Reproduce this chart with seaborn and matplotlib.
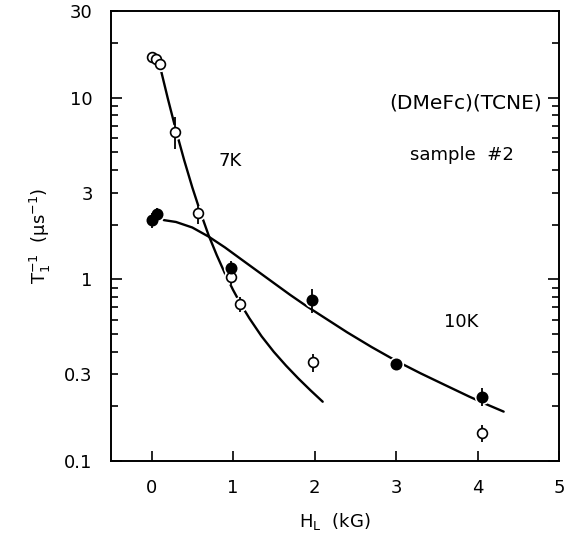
import numpy as np
import pandas as pd
import seaborn as sns
import matplotlib.pyplot as plt
from matplotlib.ticker import FixedLocator, FuncFormatter

# 7K data (open circles)
h_7k = [0.0, 0.06, 0.10, 0.29, 0.57, 0.97, 1.09, 1.98, 4.06]
rate_7k = [16.8, 16.4, 15.4, 6.5, 2.31, 1.03, 0.73, 0.35, 0.142]
err_7k = [0.0, 0.0, 0.0, 1.3, 0.3, 0.1, 0.07, 0.04, 0.015]

# 10K data (filled circles)
h_10k = [0.0, 0.07, 0.97, 1.97, 3.0, 4.06]
rate_10k = [2.12, 2.28, 1.15, 0.77, 0.34, 0.226]
err_10k = [0.2, 0.2, 0.12, 0.12, 0.02, 0.025]

# fit curves
fit7_h = [0.12, 0.20, 0.30, 0.40, 0.50, 0.60, 0.70, 0.80, 0.90, 1.00, 1.10,
          1.20, 1.35, 1.50, 1.65, 1.80, 1.95, 2.10]
fit7_r = [13.9, 9.89, 6.61, 4.54, 3.21, 2.34, 1.75, 1.36, 1.08, 0.875, 0.724,
          0.611, 0.486, 0.399, 0.335, 0.285, 0.245, 0.212]
fit10_h = [0.15, 0.30, 0.50, 0.70, 0.90, 1.10, 1.30, 1.50, 1.70, 1.90, 2.10,
           2.40, 2.70, 3.00, 3.30, 3.60, 3.90, 4.10, 4.32]
fit10_r = [2.12, 2.07, 1.93, 1.72, 1.50, 1.29, 1.11, 0.955, 0.822, 0.713, 0.624,
           0.511, 0.424, 0.356, 0.304, 0.262, 0.226, 0.206, 0.187]

sns.set_style("ticks")
plt.rcParams['font.family'] = ['DejaVu Sans']
plt.rcParams['mathtext.default'] = 'regular'
plt.rcParams['text.color'] = 'black'
plt.rcParams['axes.labelcolor'] = 'black'
plt.rcParams['xtick.color'] = 'black'
plt.rcParams['ytick.color'] = 'black'
plt.rcParams['axes.edgecolor'] = 'black'

fig = plt.figure(figsize=(5.74, 5.46), dpi=100)
ax = fig.add_axes([0.193, 0.1557, 0.781, 0.824])

sns.lineplot(x=fit7_h, y=fit7_r, color='black', lw=1.7, ax=ax, sort=False)
sns.lineplot(x=fit10_h, y=fit10_r, color='black', lw=1.7, ax=ax, sort=False)

# white halos around the symbols
ax.scatter(h_7k + h_10k, rate_7k + rate_10k, s=120, color='white', lw=0, zorder=2.5)

ax.errorbar(h_7k, rate_7k, yerr=err_7k, fmt='none', ecolor='black', elinewidth=1.3, zorder=3)
ax.errorbar(h_10k, rate_10k, yerr=err_10k, fmt='none', ecolor='black', elinewidth=1.3, zorder=3)

sns.scatterplot(x=h_7k, y=rate_7k, marker='o', s=50, facecolor='white',
                edgecolor='black', linewidth=1.2, ax=ax, zorder=4)
sns.scatterplot(x=h_10k, y=rate_10k, marker='o', s=55, color='black',
                edgecolor='black', linewidth=1.2, ax=ax, zorder=4)

ax.set_yscale('log')
ax.set_xlim(-0.5, 5)
ax.set_ylim(0.1, 30)

ax.set_xticks([0, 1, 2, 3, 4, 5])
ax.set_xticklabels(['0', '1', '2', '3', '4', '5'])
ax.yaxis.set_major_locator(FixedLocator([0.1, 1, 10]))
ax.yaxis.set_major_formatter(FuncFormatter(lambda v, p: '%g' % v))
minors = [0.2, 0.3, 0.4, 0.5, 0.6, 0.7, 0.8, 0.9, 2, 3, 4, 5, 6, 7, 8, 9, 20, 30]
ax.yaxis.set_minor_locator(FixedLocator(minors))
ax.yaxis.set_minor_formatter(FuncFormatter(lambda v, p: '%g' % v if v in (0.3, 3, 30) else ''))

ax.tick_params(axis='x', which='major', direction='in', length=7, width=1.2,
               top=False, pad=13, labelsize=13)
ax.tick_params(axis='y', which='major', direction='in', length=8, width=1.2,
               right=True, pad=13, labelsize=13)
ax.tick_params(axis='y', which='minor', direction='in', length=5, width=1.2,
               right=True, pad=13, labelsize=13)
for s in ax.spines.values():
    s.set_linewidth(1.4)

ax.set_xlabel('$H_L$  (kG)', fontsize=13, labelpad=10)
ax.set_ylabel('$T_1^{-1}$  ($\\mu$s$^{-1}$)', fontsize=13, labelpad=8)

ax.text(3.85, 9.3, '(DMeFc)(TCNE)', fontsize=14.5, ha='center', va='center')
ax.text(3.81, 4.83, 'sample  #2', fontsize=13, ha='center', va='center')
ax.text(0.96, 4.5, '7K', fontsize=13, ha='center', va='center')
ax.text(3.80, 0.58, '10K', fontsize=13, ha='center', va='center')

fig.savefig('out.png', dpi=100)
